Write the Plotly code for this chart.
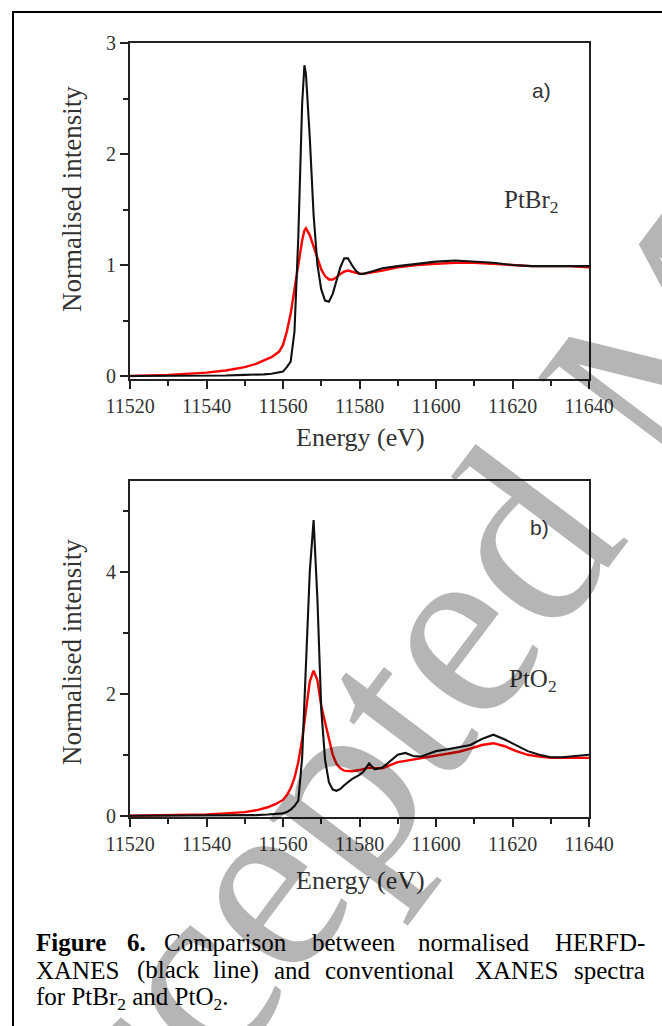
import plotly.graph_objects as go

W, H = 662, 1026

# ---- spectra: PtBr2 (panel a) ----
energy_a = [11520, 11530, 11540, 11545, 11550, 11553, 11555, 11557, 11559, 11560,
            11561, 11562, 11563, 11564, 11565, 11565.6, 11566, 11567, 11568, 11569,
            11570, 11571, 11572, 11573, 11574, 11575, 11576, 11577, 11578, 11579,
            11580, 11581, 11583, 11586, 11590, 11595, 11600, 11605, 11610, 11615,
            11620, 11625, 11630, 11635, 11640]
herfd_a = [0.00, 0.00, 0.005, 0.005, 0.01, 0.01, 0.015, 0.02, 0.03, 0.04,
           0.08, 0.13, 0.40, 1.25, 2.45, 2.80, 2.72, 2.15, 1.45, 1.00,
           0.78, 0.68, 0.67, 0.74, 0.86, 0.98, 1.06, 1.06, 1.00, 0.95,
           0.92, 0.92, 0.94, 0.97, 0.99, 1.01, 1.03, 1.04, 1.03, 1.02,
           1.00, 0.99, 0.99, 0.99, 0.99]
xanes_a = [0.00, 0.01, 0.03, 0.05, 0.08, 0.11, 0.14, 0.17, 0.22, 0.28,
           0.40, 0.56, 0.78, 1.02, 1.22, 1.31, 1.33, 1.27, 1.16, 1.05,
           0.96, 0.90, 0.87, 0.87, 0.89, 0.92, 0.94, 0.95, 0.94, 0.93,
           0.92, 0.92, 0.93, 0.95, 0.98, 1.00, 1.01, 1.02, 1.02, 1.01,
           1.00, 0.99, 0.99, 0.99, 0.98]

# ---- spectra: PtO2 (panel b) ----
energy_b = [11520, 11530, 11540, 11545, 11550, 11553, 11556, 11558, 11560, 11561,
            11562, 11563, 11564, 11565, 11566, 11567, 11568, 11569, 11570, 11571,
            11572, 11573, 11574, 11575, 11576, 11578, 11580, 11581, 11582.5, 11584,
            11586, 11588, 11590, 11592, 11594, 11596, 11598, 11600, 11603, 11606,
            11609, 11612, 11615, 11618, 11621, 11624, 11627, 11630, 11633, 11636,
            11640]
herfd_b = [0.00, 0.00, 0.00, 0.005, 0.01, 0.01, 0.02, 0.03, 0.04, 0.06,
           0.10, 0.16, 0.25, 0.95, 2.45, 4.00, 4.85, 3.55, 1.75, 0.92,
           0.55, 0.43, 0.41, 0.44, 0.50, 0.60, 0.67, 0.72, 0.86, 0.76,
           0.79, 0.90, 1.00, 1.03, 0.98, 0.97, 1.02, 1.06, 1.09, 1.12,
           1.16, 1.26, 1.33, 1.25, 1.15, 1.06, 1.00, 0.96, 0.96, 0.98,
           1.00]
xanes_b = [0.00, 0.01, 0.02, 0.04, 0.06, 0.09, 0.14, 0.19, 0.26, 0.34,
           0.45, 0.62, 0.88, 1.25, 1.75, 2.20, 2.38, 2.22, 1.80, 1.55,
           1.25, 1.00, 0.85, 0.78, 0.74, 0.73, 0.75, 0.77, 0.79, 0.78,
           0.78, 0.83, 0.88, 0.90, 0.92, 0.94, 0.96, 0.98, 1.01, 1.05,
           1.10, 1.16, 1.19, 1.14, 1.06, 1.00, 0.97, 0.95, 0.95, 0.95,
           0.95]

x_ticks = [11520, 11540, 11560, 11580, 11600, 11620, 11640]
y_ticks_a = [0, 1, 2, 3]
y_ticks_b = [0, 2, 4]

def fx(p):
    return p / W

def fy(p):
    return 1 - p / H

SERIF = "Liberation Serif, Times New Roman, serif"
SANS = "Liberation Sans, Arial, sans-serif"
TXT = "#333333"

fig = go.Figure()
for xs, black, red, xa, ya in [(energy_a, herfd_a, xanes_a, "x", "y"),
                               (energy_b, herfd_b, xanes_b, "x2", "y2")]:
    fig.add_trace(go.Scatter(x=xs, y=red, mode="lines", xaxis=xa, yaxis=ya,
                             line=dict(color="#ff0000", width=2.4), showlegend=False))
    fig.add_trace(go.Scatter(x=xs, y=black, mode="lines", xaxis=xa, yaxis=ya,
                             line=dict(color="#111111", width=2.1), showlegend=False))

def xaxis_style(anchor):
    return dict(range=[11520, 11640], tickvals=x_ticks, ticktext=[str(v) for v in x_ticks],
                ticks="outside", ticklen=8, tickwidth=1.5, tickcolor="#222",
                showline=True, linecolor="#222", linewidth=2, mirror=True,
                showgrid=False, zeroline=False, automargin=False,
                anchor=anchor, domain=[fx(130), fx(589)],
                tickfont=dict(family=SERIF, size=20, color=TXT),
                minor=dict(dtick=10, ticklen=5, tickwidth=1.5, tickcolor="#222", ticks="outside"))

def yaxis_style(anchor, rng, vals, minor_dt, dom):
    return dict(range=rng, tickvals=vals, ticktext=[str(v) for v in vals],
                ticks="outside", ticklen=8, tickwidth=1.5,
                tickcolor="#222", showline=True, linecolor="#222", linewidth=2,
                mirror=True, showgrid=False, zeroline=False, automargin=False,
                anchor=anchor, domain=dom,
                tickfont=dict(family=SERIF, size=20, color=TXT),
                minor=dict(dtick=minor_dt, ticklen=5, tickwidth=1.5, tickcolor="#222", ticks="outside"))

fig.update_layout(
    width=W, height=H, margin=dict(l=0, r=0, t=0, b=0, pad=0, autoexpand=False),
    paper_bgcolor="white", plot_bgcolor="white",
    xaxis=xaxis_style("y"),
    yaxis=yaxis_style("x", [-0.027, 3.0], y_ticks_a, 0.5, [fy(379), fy(43)]),
    xaxis2=xaxis_style("y2"),
    yaxis2=yaxis_style("x2", [-0.02, 5.49], y_ticks_b, 1, [fy(817), fy(481)]),
)

ann = []
def text(x, y, s, size, family=SERIF, color=TXT, angle=0, xanchor="center", **kw):
    ann.append(dict(x=fx(x), y=fy(y), xref="paper", yref="paper", text=s, showarrow=False,
                    font=dict(family=family, size=size, color=color), textangle=angle,
                    xanchor=xanchor, yanchor="middle", **kw))

# axis titles
for yc in (199, 652):
    text(72, yc, "Normalised intensity", 27, angle=-90)
for yc in (437, 880):
    text(360, yc, "Energy (eV)", 26)

# panel labels
text(541, 91, "a)", 21, family=SANS)
text(539, 527, "b)", 21, family=SANS)
text(531, 201, "PtBr<sub>2</sub>", 25)
text(533, 680, "PtO<sub>2</sub>", 25)

# caption, justified word by word (last word of each full line flush right)
CAP = 25
line1 = [(34, "<b>Figure</b>"), (125, "<b>6.</b>"), (162, "Comparison"), (310, "between"),
         (416, "normalised")]
line2 = [(34, "XANES"), (135, "(black"), (211, "line)"), (272, "and"), (323, "conventional"),
         (473, "XANES")]
for x, w in line1:
    text(x, 942, w, CAP, color="black", xanchor="left")
text(647, 942, "HERFD-", CAP, color="black", xanchor="right")
for x, w in line2:
    text(x, 970, w, CAP, color="black", xanchor="left")
text(647, 970, "spectra", CAP, color="black", xanchor="right")
text(34, 998, "for PtBr<sub>2</sub> and PtO<sub>2</sub>.", CAP, color="black", xanchor="left")

# watermark
text(641, 378, "Accepted Manuscript", 260, color="rgba(0,0,0,0.29)", angle=-53)

fig.update_layout(annotations=ann)

# outer frame
fig.add_shape(type="rect", xref="paper", yref="paper", x0=fx(13), y0=fy(1040),
              x1=fx(680), y1=fy(12), line=dict(color="black", width=2))

fig.write_html("out.html")
